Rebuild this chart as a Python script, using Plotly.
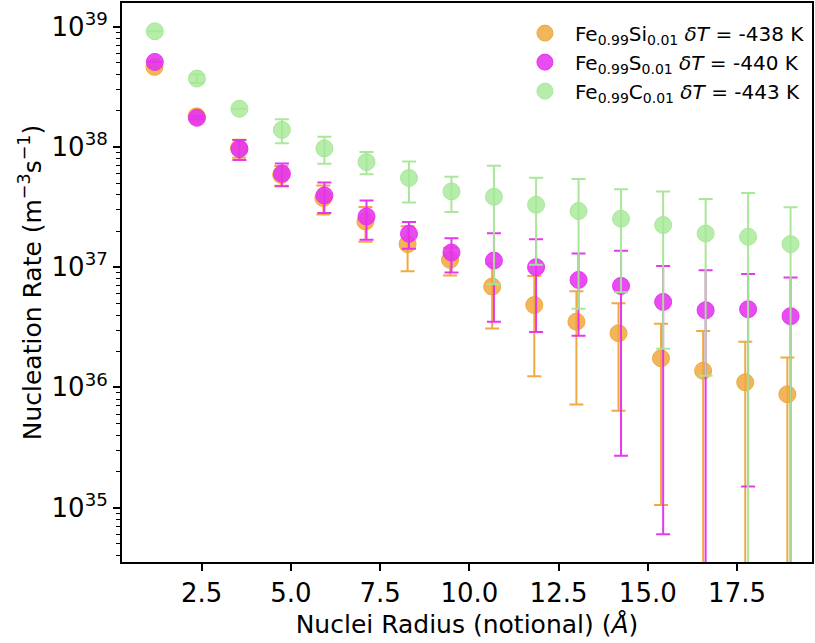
import plotly.graph_objects as go

# ---------------- data ----------------
radius_si = [1.18, 2.36, 3.55, 4.73, 5.91, 7.09, 8.27, 9.46, 10.64, 11.82, 13.00, 14.18, 15.37, 16.55, 17.73, 18.91]
radius_sc = [1.19, 2.37, 3.56, 4.75, 5.94, 7.12, 8.31, 9.50, 10.69, 11.87, 13.06, 14.25, 15.43, 16.62, 17.81, 19.00]

rate_si = [4.64e38, 1.80e38, 9.82e37, 5.85e37, 3.76e37, 2.40e37, 1.556e37, 1.151e37, 6.89e36, 4.84e36,
           3.52e36, 2.82e36, 1.745e36, 1.374e36, 1.101e36, 8.75e35]
err_si = [0.0, 0.0, 1.68e37, 1.10e37, 1.02e37, 7.7e36, 6.3e36, 3.0e36, 3.8e36, 3.6e36,
          2.8e36, 2.18e36, 1.64e36, 1.57e36, 1.29e36, 9.0e35]

rate_s = [5.10e38, 1.75e38, 9.62e37, 6.00e37, 3.95e37, 2.64e37, 1.897e37, 1.324e37, 1.135e37, 1.00e37,
          7.83e36, 6.98e36, 5.14e36, 4.38e36, 4.47e36, 3.91e36]
err_s = [0.0, 5.0e36, 1.81e37, 1.29e37, 1.12e37, 9.5e36, 4.75e36, 4.2e36, 7.84e36, 7.11e36,
         5.14e36, 6.71e36, 5.08e36, 5.06e36, 4.32e36, 4.28e36]

rate_c = [9.18e38, 3.71e38, 2.08e38, 1.387e38, 9.73e37, 7.50e37, 5.52e37, 4.27e37, 3.85e37, 3.30e37,
          2.93e37, 2.53e37, 2.24e37, 1.905e37, 1.79e37, 1.556e37]
err_c = [0.0, 3.0e37, 0.0, 3.11e37, 2.46e37, 1.58e37, 2.07e37, 1.39e37, 3.13e37, 2.25e37,
         2.48e37, 1.91e37, 2.03e37, 1.78e37, 2.35e37, 1.60e37]

labels = [
    "Fe<sub>0.99</sub>Si<sub>0.01</sub> <i>δT</i> = -438 K",
    "Fe<sub>0.99</sub>S<sub>0.01</sub> <i>δT</i> = -440 K",
    "Fe<sub>0.99</sub>C<sub>0.01</sub> <i>δT</i> = -443 K",
]

x_ticks = [2.5, 5.0, 7.5, 10.0, 12.5, 15.0, 17.5]
y_ticks = [1e35, 1e36, 1e37, 1e38, 1e39]
y_ticktext = ["10<sup>35</sup>", "10<sup>36</sup>", "10<sup>37</sup>", "10<sup>38</sup>", "10<sup>39</sup>"]
y_minor = [float(m) * 10.0 ** e for e in range(34, 40) for m in range(2, 10)]

# ---------------- styling ----------------
FONT = "DejaVu Sans"
series = [
    (radius_si, rate_si, err_si, labels[0], "rgba(240,168,60,0.85)", "rgba(240,165,55,0.95)"),
    (radius_sc, rate_s, err_s, labels[1], "rgba(230,50,240,0.88)", "rgba(230,45,240,0.95)"),
    (radius_sc, rate_c, err_c, labels[2], "rgba(165,232,150,0.8)", "rgba(165,230,150,0.95)"),
]

fig = go.Figure()
for xs, ys, es, name, fill, line in series:
    fig.add_trace(go.Scatter(
        x=xs, y=ys, name=name, mode="markers",
        marker=dict(size=17, color=fill, line=dict(color=line, width=1)),
        error_y=dict(type="data", array=es, symmetric=True, color=line,
                     thickness=2, width=7),
    ))

fig.update_layout(
    width=815, height=643,
    margin=dict(l=122, r=3, t=3, b=81, autoexpand=False),
    paper_bgcolor="white", plot_bgcolor="white",
    font=dict(family=FONT, color="black", size=25),
    showlegend=True,
    legend=dict(x=0.997, xanchor="right", y=0.981, yanchor="top",
                bgcolor="rgba(255,255,255,0)", font=dict(size=20, family=FONT),
                itemwidth=50, tracegroupgap=0),
)

fig.update_xaxes(
    range=[0.27, 19.6], automargin=False,
    tickvals=x_ticks, ticktext=[f"{v:.1f}" for v in x_ticks],
    ticks="outside", ticklen=7, tickwidth=1.5, tickcolor="black",
    showline=True, linecolor="black", linewidth=2, mirror=True,
    showgrid=False, zeroline=False,
    tickfont=dict(size=26, family=FONT),
    title=dict(text="Nuclei Radius (notional) (<i>Å</i>)", font=dict(size=25, family=FONT), standoff=8),
)

fig.update_yaxes(
    type="log", range=[34.547, 39.198], automargin=False,
    tickvals=y_ticks, ticktext=y_ticktext,
    ticks="outside", ticklen=7, tickwidth=1.5, tickcolor="black",
    minor=dict(tickvals=y_minor, ticks="outside", ticklen=4, tickwidth=1, tickcolor="black", showgrid=False),
    showline=True, linecolor="black", linewidth=2, mirror=True,
    showgrid=False, zeroline=False,
    tickfont=dict(size=26, family=FONT),
    title=dict(text="Nucleation Rate (m<sup>−3</sup>s<sup>−1</sup>)", font=dict(size=25, family=FONT), standoff=3),
)

fig.write_html("out.html", config={"displayModeBar": False},
               post_script="document.body.style.margin='0';document.body.style.padding='0';")
